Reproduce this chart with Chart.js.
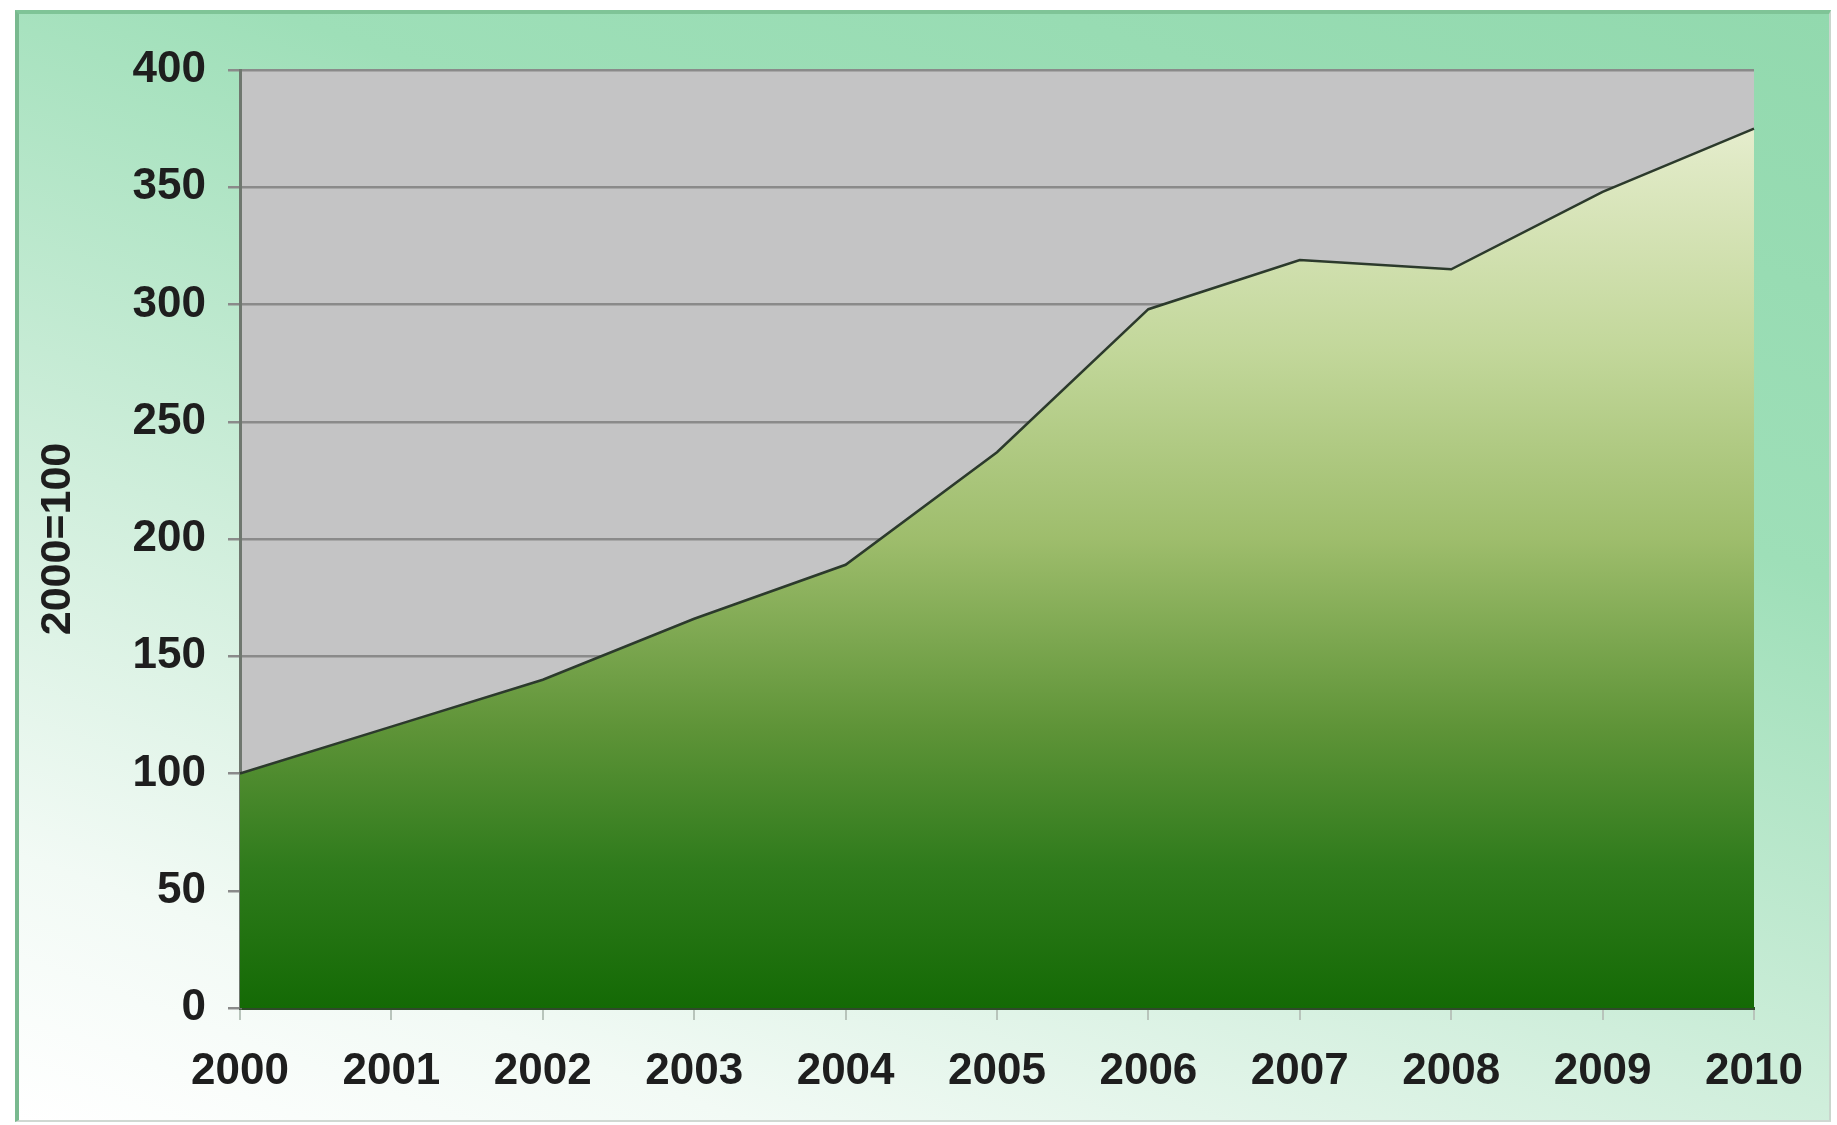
<!DOCTYPE html>
<html>
<head>
<meta charset="utf-8">
<script src="https://cdn.jsdelivr.net/npm/chart.js@4.4.1/dist/chart.umd.min.js"></script>
<style>
  html, body { margin: 0; padding: 0; background: #ffffff; }
  #frame {
    position: absolute; left: 15px; top: 10px; width: 1810px; height: 1106px;
    border-top: 4px solid #7fc497; border-left: 4px solid #79b98f;
    border-right: 2px solid #c9d6cd; border-bottom: 2px solid #d0d8d2;
    background: linear-gradient(200deg, #92d9ae 0%, #9edfb8 32%, #cfeedb 62%, #f2faf5 85%, #ffffff 100%);
  }
  #wrap { position: absolute; left: 0; top: 0; width: 1837px; height: 1125px; }
</style>
</head>
<body>
<div id="frame"></div>
<div id="wrap"><canvas id="canvas"></canvas></div>
<script>
let ctx = document.getElementById('canvas').getContext('2d');

const years = ['2000', '2001', '2002', '2003', '2004', '2005', '2006', '2007', '2008', '2009', '2010'];
const index = [100, 120, 140, 166, 189, 237, 298, 319, 315, 348, 375];
const yTicks = [0, 50, 100, 150, 200, 250, 300, 350, 400];

const tickFont = { family: 'Liberation Sans', size: 44, weight: 'bold' };

// grey plot background
const plotBackground = {
  id: 'plotBackground',
  beforeDraw(chart) {
    const a = chart.chartArea;
    const c = chart.ctx;
    c.save();
    c.fillStyle = '#c4c4c5';
    c.fillRect(a.left, a.top, a.right - a.left, a.bottom - a.top);
    c.restore();
  }
};

function areaGradient(context) {
  const chart = context.chart;
  const a = chart.chartArea;
  if (!a) return '#4a8a30';
  const g = chart.ctx.createLinearGradient(0, a.top, 0, a.bottom);
  g.addColorStop(0, '#f0f4de');
  g.addColorStop(0.1, '#dfe9c4');
  g.addColorStop(0.3, '#c2d79a');
  g.addColorStop(0.5, '#9ebd6c');
  g.addColorStop(0.7, '#5f9438');
  g.addColorStop(0.85, '#2f7b1c');
  g.addColorStop(1, '#146a05');
  return g;
}

function init() {
  let chart = new Chart(ctx, {
    type: 'line',
    data: data,
    options: options,
    plugins: [plotBackground]
  });
}

const data = {
  labels: years,
  datasets: [{
    label: '2000=100',
    data: index,
    fill: 'origin',
    backgroundColor: areaGradient,
    borderColor: '#2c3a2c',
    borderWidth: 2.5,
    pointRadius: 0,
    tension: 0
  }]
};

const options = {
  responsive: true,
  maintainAspectRatio: false,
  animation: false,
  layout: {
    padding: { left: 32, top: 70, right: 83, bottom: 0 }
  },
  plugins: {
    legend: { display: false },
    tooltip: { enabled: false }
  },
  scales: {
    x: {
      offset: false,
      grid: { drawOnChartArea: false, drawTicks: true, tickLength: 12, color: '#b8c4bb', lineWidth: 2 },
      border: { color: '#2f4a2a', width: 3 },
      ticks: { font: tickFont, color: '#1e1e1e', padding: 25, maxRotation: 0, autoSkip: false },
      afterFit(scale) { scale.height = 117; }
    },
    y: {
      min: 0,
      max: 400,
      afterBuildTicks(scale) { scale.ticks = yTicks.map(v => ({ value: v })); },
      grid: { color: '#8a8a8a', lineWidth: 2.5, tickLength: 12 },
      border: { color: '#6f776f', width: 3 },
      ticks: { font: tickFont, color: '#1e1e1e', padding: 22 },
      title: {
        display: true,
        text: '2000=100',
        font: { family: 'Liberation Sans', size: 43, weight: 'bold' },
        color: '#1e1e1e',
        padding: 0
      },
      afterFit(scale) { scale.width = 208; }
    }
  }
};

init();
</script>
</body>
</html>
